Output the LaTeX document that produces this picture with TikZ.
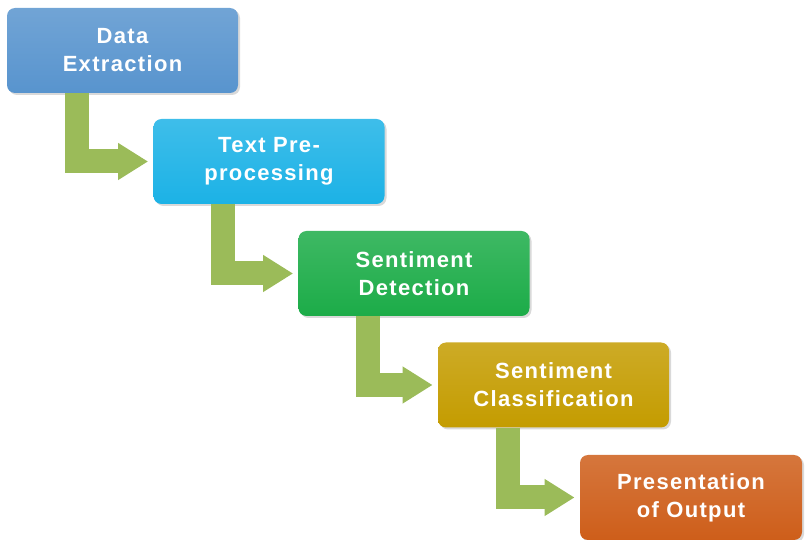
\documentclass[tikz,border=0pt]{standalone}
\usepackage{fontspec}
\newfontfamily\stagefont{Liberation Sans}[LetterSpace=6]
\usetikzlibrary{arrows.meta,shadows}

\definecolor{extblue}{RGB}{88,148,206}
\definecolor{precyan}{RGB}{28,178,230}
\definecolor{detgreen}{RGB}{28,172,72}
\definecolor{clsgold}{RGB}{196,156,0}
\definecolor{outorange}{RGB}{206,94,26}
\definecolor{flowgreen}{RGB}{155,187,89}

\tikzset{
  stage/.style={rounded corners=4pt, minimum width=115.5pt, minimum height=42.5pt,
    align=center, text=white, inner sep=2pt,
    font=\stagefont\bfseries\fontsize{11}{14}\selectfont,
    drop shadow={shadow xshift=1pt, shadow yshift=-1pt, opacity=0.3}},
  flow/.style={draw=flowgreen, line width=12pt,
    -{Triangle[length=15pt,width=17.5pt]}, shorten >=2.5pt}
}

\begin{document}
\begin{tikzpicture}

  \useasboundingbox (0,0) rectangle (402.5pt,-270pt);

  % the five stages
  \node[stage, top color=extblue!85!white, bottom color=extblue]
    (extract) at (61.25pt,-25.25pt) {Data\\Extraction};
  \node[stage, top color=precyan!85!white, bottom color=precyan]
    (preproc) at (134.5pt,-80.75pt) {Text Pre-\\processing};
  \node[stage, top color=detgreen!85!white, bottom color=detgreen]
    (detect) at (207pt,-136.75pt) {Sentiment\\Detection};
  \node[stage, top color=clsgold!85!white, bottom color=clsgold]
    (classify) at (276.75pt,-192.5pt) {Sentiment\\Classification};
  \node[stage, minimum width=111pt, top color=outorange!85!white, bottom color=outorange]
    (output) at (345.5pt,-248.75pt) {Presentation\\of Output};

  % bent arrows between them
  \foreach \a/\b in {extract/preproc, preproc/detect, detect/classify, classify/output}
    \draw[flow] ([xshift=35pt]\a.south west) |- (\b.west);

\end{tikzpicture}
\end{document}
